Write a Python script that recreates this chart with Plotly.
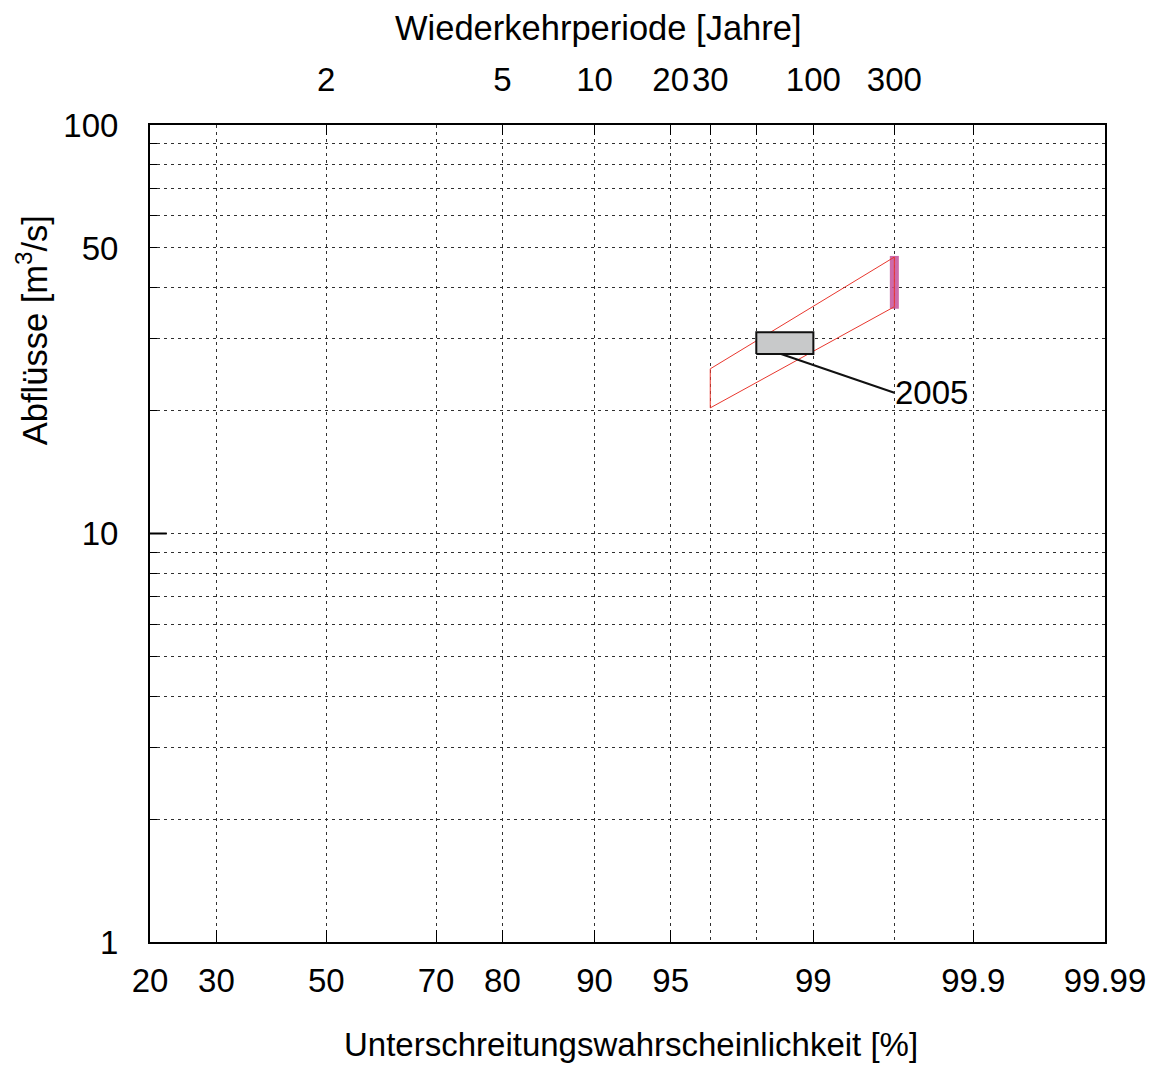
import math
from statistics import NormalDist
import plotly.graph_objects as go

# ---------------- data ----------------
prob_ticks = [20, 30, 50, 70, 80, 90, 95, 99, 99.9, 99.99]          # Unterschreitungswahrscheinlichkeit [%]
prob_labels = ["20", "30", "50", "70", "80", "90", "95", "99", "99.9", "99.99"]
return_periods = [2, 5, 10, 20, 30, 100, 300]                        # Wiederkehrperiode [Jahre]
return_labels = ["2", "5", "10", "20", "30", "100", "300"]
return_minor = [50, 1000]
q_ticks = [1, 10, 50, 100]
q_labels = ["1", "10", "50", "100"]
q_minor = [2, 3, 4, 5, 6, 7, 8, 9, 20, 30, 40, 60, 70, 80, 90]

band_T = [30, 300, 300, 30, 30]            # red confidence band
band_Q = [20.3, 35.9, 47.5, 25.3, 20.3]
bar_T = [300, 300]                         # magenta bar
bar_Q = [35.5, 47.8]
box_T = [50, 100, 100, 50, 50]             # grey box (2005 event)
box_Q = [27.5, 27.5, 31.1, 31.1, 27.5]
label_T = [67, 300]                        # leader line to label
label_Q = [27.5, 22.1]
label_text = "2005"

# ---------------- scale helpers ----------------
nd = NormalDist()
def zp(p):           # percent -> normal probability scale
    return nd.inv_cdf(p / 100.0)
def zT(T):           # return period -> normal probability scale
    return nd.inv_cdf(1.0 - 1.0 / T)

xr = [zp(prob_ticks[0]), zp(prob_ticks[-1])]
FONT = "Liberation Sans, Arial, Helvetica, sans-serif"
FS = 33
GRID = "#303030"
DASH = "3px,4px"

fig = go.Figure()

fig.add_trace(go.Scatter(
    x=[zT(t) for t in bar_T], y=bar_Q, mode="lines",
    line=dict(color="rgba(196,80,155,0.85)", width=9), hoverinfo="skip"))
fig.add_trace(go.Scatter(
    x=[zT(t) for t in band_T], y=band_Q, mode="lines",
    line=dict(color="#e8372e", width=1), hoverinfo="skip"))
fig.add_trace(go.Scatter(
    x=[zT(t) for t in box_T], y=box_Q, mode="lines", fill="toself",
    fillcolor="#c8c9ca", line=dict(color="#111111", width=2), hoverinfo="skip"))
fig.add_trace(go.Scatter(
    x=[zT(t) for t in label_T], y=label_Q, mode="lines",
    line=dict(color="#111111", width=2), hoverinfo="skip"))
# long tick at 10 on left axis
fig.add_trace(go.Scatter(
    x=[xr[0], xr[0] + 0.08], y=[10, 10], mode="lines",
    line=dict(color="black", width=2), hoverinfo="skip"))

fig.add_annotation(
    x=zT(label_T[-1]), y=math.log10(label_Q[-1]), xref="x", yref="y",
    text=label_text, showarrow=False, xanchor="left", yanchor="middle",
    xshift=-1, font=dict(family=FONT, size=FS, color="black"))

# axis titles
fig.add_annotation(x=0.5037, y=-0.126, xref="paper", yref="paper",
                   text="Unterschreitungswahrscheinlichkeit [%]", showarrow=False,
                   xanchor="center", yanchor="middle",
                   font=dict(family=FONT, size=FS, color="black"))
fig.add_annotation(x=0.470, y=1.1187, xref="paper", yref="paper",
                   text="Wiederkehrperiode [Jahre]", showarrow=False,
                   xanchor="center", yanchor="middle",
                   font=dict(family=FONT, size=34.5, color="black"))
fig.add_annotation(x=-0.1245, y=0.749, xref="paper", yref="paper",
                   text="Abflüsse [m<sup>3</sup>/s]", showarrow=False, textangle=-90,
                   xanchor="center", yanchor="middle",
                   font=dict(family=FONT, size=34.5, color="black"))

fig.update_layout(
    width=1162, height=1066,
    margin=dict(l=150, r=57, t=125, b=124),
    paper_bgcolor="white", plot_bgcolor="white",
    showlegend=False,
    font=dict(family=FONT, size=FS, color="black"),
    xaxis=dict(
        range=xr, tickmode="array",
        tickvals=[zp(p) for p in prob_ticks], ticktext=prob_labels,
        ticks="inside", ticklen=12, tickwidth=1, tickcolor="black",
        showline=True, linecolor="black", linewidth=2, mirror=False,
        showgrid=True, gridcolor=GRID, gridwidth=1, griddash=DASH,
        zeroline=False, tickangle=0, automargin=False,
        ticklabelstandoff=8, tickfont=dict(family=FONT, size=FS, color="black")),
    xaxis2=dict(
        range=xr, overlaying="x", side="top", tickmode="array",
        tickvals=[zT(t) for t in return_periods], ticktext=return_labels,
        ticks="inside", ticklen=10, tickwidth=1, tickcolor="black",
        showline=True, linecolor="black", linewidth=2,
        showgrid=True, gridcolor=GRID, gridwidth=1, griddash=DASH,
        zeroline=False, tickangle=0, automargin=False,
        ticklabelstandoff=19, tickfont=dict(family=FONT, size=FS, color="black"),
        minor=dict(tickmode="array", tickvals=[zT(t) for t in return_minor],
                   ticks="inside", ticklen=10, tickcolor="black", showgrid=True,
                   gridcolor=GRID, gridwidth=1, griddash=DASH)),
    yaxis=dict(
        type="log", range=[0, 2], tickmode="array",
        tickvals=q_ticks, ticktext=q_labels,
        ticks="inside", ticklen=7, tickwidth=1, tickcolor="black",
        showline=True, linecolor="black", linewidth=2, mirror=True,
        showgrid=True, gridcolor=GRID, gridwidth=1, griddash=DASH,
        zeroline=False, automargin=False,
        ticklabelstandoff=23, tickfont=dict(family=FONT, size=FS, color="black"),
        minor=dict(tickmode="array", tickvals=q_minor, ticks="inside", ticklen=7,
                   tickcolor="black", showgrid=True, gridcolor=GRID,
                   gridwidth=1, griddash=DASH)),
)
# a dummy trace on xaxis2 so the top axis is drawn
fig.add_trace(go.Scatter(x=[xr[0]], y=[1], xaxis="x2", mode="markers",
                         marker=dict(opacity=0), hoverinfo="skip"))

fig.write_html("out.html")
